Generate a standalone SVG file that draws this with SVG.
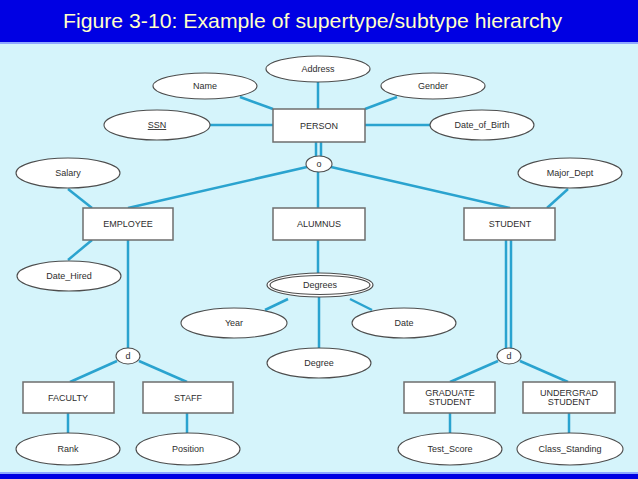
<svg xmlns="http://www.w3.org/2000/svg" width="638" height="479" viewBox="0 0 638 479">
<style>
.ent{fill:#ffffff;stroke:#6d6d6d;stroke-width:1.5}
.att{fill:#ffffff;stroke:#4d4d4d;stroke-width:1.1}
.ln{stroke:#2aa3cf;stroke-width:2.5;fill:none}
.t{font-family:"Liberation Sans",Arial,sans-serif;font-size:9px;fill:#2e2e2e;text-anchor:middle}
</style>
<rect x="0" y="0" width="638" height="479" fill="#d5f4fb"/>
<rect x="0" y="0" width="638" height="42" fill="#0000e3"/>
<rect x="0" y="42" width="638" height="2" fill="#8fa8ff"/>
<rect x="0" y="472" width="638" height="2" fill="#8fa8ff"/>
<rect x="0" y="474" width="638" height="5" fill="#0000e3"/>
<text x="63" y="28" font-family="'Liberation Sans',Arial,sans-serif" font-size="21" fill="#ffffc8" textLength="499" lengthAdjust="spacingAndGlyphs">Figure 3-10: Example of supertype/subtype hierarchy</text>

<g id="connectors">
<line class="ln" x1="240" y1="97" x2="273" y2="109"/>
<line class="ln" x1="318" y1="82" x2="318" y2="109"/>
<line class="ln" x1="397" y1="97" x2="365" y2="109"/>
<line class="ln" x1="210" y1="125" x2="273" y2="125"/>
<line class="ln" x1="365" y1="125" x2="430" y2="125"/>
<line class="ln" x1="316" y1="142" x2="316" y2="156" stroke-width="2"/>
<line class="ln" x1="321" y1="142" x2="321" y2="156" stroke-width="2"/>
<line class="ln" x1="307" y1="167" x2="128" y2="208"/>
<line class="ln" x1="331" y1="167" x2="510" y2="208"/>
<line class="ln" x1="318" y1="171" x2="318" y2="208"/>
<line class="ln" x1="68" y1="189" x2="92" y2="208"/>
<line class="ln" x1="68" y1="260" x2="92" y2="240"/>
<line class="ln" x1="568" y1="189" x2="547" y2="208"/>
<line class="ln" x1="128" y1="240" x2="128" y2="348"/>
<line class="ln" x1="506" y1="240" x2="506" y2="348" stroke-width="2"/>
<line class="ln" x1="511" y1="240" x2="511" y2="348" stroke-width="2"/>
<line class="ln" x1="318" y1="240" x2="318" y2="273"/>
<line class="ln" x1="288" y1="299" x2="265" y2="310"/>
<line class="ln" x1="350" y1="299" x2="372" y2="310"/>
<line class="ln" x1="319" y1="297" x2="319" y2="348"/>
<line class="ln" x1="117" y1="361" x2="70" y2="382"/>
<line class="ln" x1="139" y1="361" x2="187" y2="382"/>
<line class="ln" x1="498" y1="361" x2="450" y2="382"/>
<line class="ln" x1="520" y1="361" x2="568" y2="382"/>
<line class="ln" x1="68" y1="413" x2="68" y2="433"/>
<line class="ln" x1="187" y1="413" x2="187" y2="433"/>
<line class="ln" x1="450" y1="413" x2="450" y2="433"/>
<line class="ln" x1="569" y1="413" x2="569" y2="433"/>
</g>

<g id="PERSON"><rect class="ent" x="273" y="109" width="92" height="33"/><text class="t" x="319" y="129">PERSON</text></g>
<g id="Address"><ellipse class="att" cx="318" cy="69" rx="52" ry="13"/><text class="t" x="318" y="72">Address</text></g>
<g id="Name"><ellipse class="att" cx="205" cy="86" rx="52" ry="13"/><text class="t" x="205" y="89">Name</text></g>
<g id="Gender"><ellipse class="att" cx="433" cy="86" rx="52" ry="13"/><text class="t" x="433" y="89">Gender</text></g>
<g id="SSN"><ellipse class="att" cx="157" cy="125" rx="53" ry="15"/><text class="t" x="157" y="128" text-decoration="underline">SSN</text></g>
<g id="Date_of_Birth"><ellipse class="att" cx="482" cy="125" rx="52" ry="15"/><text class="t" x="482" y="128">Date_of_Birth</text></g>
<g id="o"><ellipse class="att" cx="319" cy="164" rx="13" ry="8"/><text class="t" x="319" y="167">o</text></g>

<g id="EMPLOYEE"><rect class="ent" x="83" y="208" width="90" height="32"/><text class="t" x="128" y="227">EMPLOYEE</text></g>
<g id="ALUMNUS"><rect class="ent" x="273" y="208" width="92" height="32"/><text class="t" x="319" y="227">ALUMNUS</text></g>
<g id="STUDENT"><rect class="ent" x="464" y="208" width="91" height="32"/><text class="t" x="510" y="227">STUDENT</text></g>
<g id="Salary"><ellipse class="att" cx="68" cy="173" rx="52" ry="15"/><text class="t" x="68" y="176">Salary</text></g>
<g id="Date_Hired"><ellipse class="att" cx="69" cy="276" rx="52" ry="15"/><text class="t" x="69" y="279">Date_Hired</text></g>
<g id="Major_Dept"><ellipse class="att" cx="570" cy="173" rx="52" ry="15"/><text class="t" x="570" y="176">Major_Dept</text></g>

<g id="Degrees"><ellipse class="att" cx="320" cy="285" rx="53" ry="12"/><ellipse class="att" cx="320" cy="285" rx="50" ry="9.5"/><text class="t" x="320" y="288">Degrees</text></g>
<g id="Year"><ellipse class="att" cx="234" cy="323" rx="53" ry="15"/><text class="t" x="234" y="326">Year</text></g>
<g id="Date"><ellipse class="att" cx="404" cy="323" rx="52" ry="15"/><text class="t" x="404" y="326">Date</text></g>
<g id="Degree"><ellipse class="att" cx="319" cy="363" rx="52" ry="15"/><text class="t" x="319" y="366">Degree</text></g>

<g id="d1"><ellipse class="att" cx="128" cy="356" rx="12" ry="8"/><text class="t" x="128" y="359">d</text></g>
<g id="d2"><ellipse class="att" cx="509" cy="356" rx="12" ry="8"/><text class="t" x="509" y="359">d</text></g>

<g id="FACULTY"><rect class="ent" x="23" y="382" width="91" height="31"/><text class="t" x="68" y="401">FACULTY</text></g>
<g id="STAFF"><rect class="ent" x="143" y="382" width="90" height="31"/><text class="t" x="188" y="401">STAFF</text></g>
<g id="GRADUATE_STUDENT"><rect class="ent" x="404" y="382" width="91" height="31"/><text class="t" x="450" y="396">GRADUATE</text><text class="t" x="450" y="405">STUDENT</text></g>
<g id="UNDERGRAD_STUDENT"><rect class="ent" x="523" y="382" width="92" height="31"/><text class="t" x="569" y="396">UNDERGRAD</text><text class="t" x="569" y="405">STUDENT</text></g>

<g id="Rank"><ellipse class="att" cx="68" cy="449" rx="52" ry="16"/><text class="t" x="68" y="452">Rank</text></g>
<g id="Position"><ellipse class="att" cx="188" cy="449" rx="52" ry="16"/><text class="t" x="188" y="452">Position</text></g>
<g id="Test_Score"><ellipse class="att" cx="450" cy="449" rx="52" ry="16"/><text class="t" x="450" y="452">Test_Score</text></g>
<g id="Class_Standing"><ellipse class="att" cx="570" cy="449" rx="53" ry="16"/><text class="t" x="570" y="452">Class_Standing</text></g>
</svg>
